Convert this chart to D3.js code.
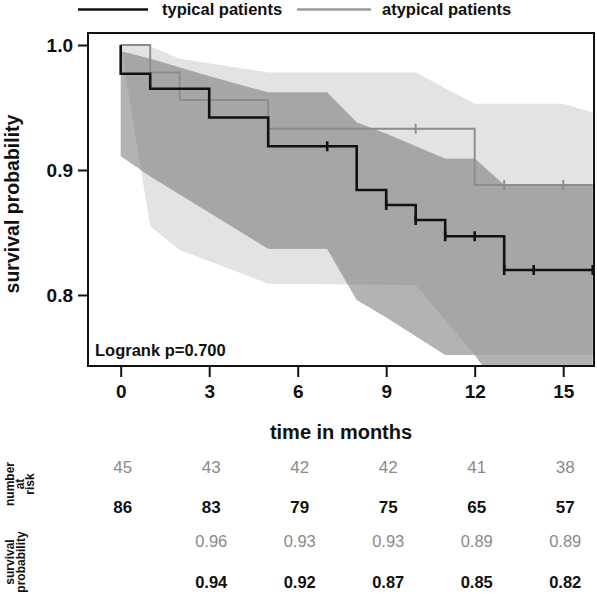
<!DOCTYPE html>
<html><head><meta charset="utf-8">
<script src="https://cdn.jsdelivr.net/npm/d3@7"></script>
<style>body{margin:0;background:#fff}svg{display:block}text{font-family:"Liberation Sans",Arial,sans-serif}</style>
</head><body><svg id="c" width="597" height="594"></svg>
<script>
// ---------------- data ----------------
const seriesNames = ["typical patients", "atypical patients"];
const seriesColors = ["#111111", "#8c8c8c"];

// Kaplan-Meier steps (time of event, survival after event)
const typicalEventTimes = [0, 1, 3, 5, 8, 9, 10, 11, 13];
const typicalSurv       = [0.977, 0.965, 0.942, 0.919, 0.884, 0.872, 0.860, 0.847, 0.820];
const typicalCensor     = [7, 9, 10, 11, 12, 13, 14, 16];

const atypicalEventTimes = [1, 2, 5, 12];
const atypicalSurv       = [0.978, 0.956, 0.933, 0.888];
const atypicalCensor     = [10, 13, 15];

const endTime = 16;

// confidence bands
const typicalBandTimes = [0, 1, 3, 5, 7, 8, 9, 10, 11, 12, 13, 14, 16];
const typicalUpper     = [0.995, 0.989, 0.975, 0.962, 0.962, 0.938, 0.929, 0.919, 0.909, 0.909, 0.888, 0.888, 0.888];
const typicalLower     = [0.911, 0.895, 0.866, 0.837, 0.837, 0.796, 0.782, 0.767, 0.752, 0.752, 0.719, 0.70, 0.68];

const atypicalBandTimes = [0, 1, 2, 5, 10, 12, 13, 15, 16];
const atypicalUpper     = [1.0, 0.999, 0.989, 0.978, 0.978, 0.953, 0.953, 0.953, 0.946];
const atypicalLower     = [1.0, 0.855, 0.836, 0.809, 0.808, 0.752, 0.752, 0.752, 0.752];

const xTicks = [0, 3, 6, 9, 12, 15];
const yTicks = [0.8, 0.9, 1.0];
const pValueText = "Logrank p=0.700";
const xTitle = "time in months";
const yTitle = "survival probability";

// risk table
const riskTimes = [0, 3, 6, 9, 12, 15];
const atypicalAtRisk = [45, 43, 42, 42, 41, 38];
const typicalAtRisk  = [86, 83, 79, 75, 65, 57];
const atypicalSurvRow = ["", "0.96", "0.93", "0.93", "0.89", "0.89"];
const typicalSurvRow  = ["", "0.94", "0.92", "0.87", "0.85", "0.82"];

// ---------------- drawing ----------------
const svg = d3.select("#c");
const P = {l: 88, t: 33, r: 594, b: 366};
const x = d3.scaleLinear().domain([0, 16]).range([120.7, 592.7]);
const y = d3.scaleLinear().domain([0.8, 1.0]).range([295, 45]);

svg.append("defs").append("clipPath").attr("id", "plotclip")
  .append("rect").attr("x", P.l).attr("y", P.t).attr("width", P.r - P.l).attr("height", P.b - P.t);

const area = d3.area().x(d => x(d.t)).y0(d => y(d.lo)).y1(d => y(d.hi));
const typBand = typicalBandTimes.map((t, i) => ({t, lo: typicalLower[i], hi: typicalUpper[i]}));
const atyBand = atypicalBandTimes.map((t, i) => ({t, lo: atypicalLower[i], hi: atypicalUpper[i]}));

const defs = svg.select("defs");
defs.append("clipPath").attr("id", "typclip").append("path").attr("d", area(typBand));

const gPlot = svg.append("g").attr("clip-path", "url(#plotclip)");
gPlot.append("path").attr("d", area(atyBand)).attr("fill", "#e3e3e3");
gPlot.append("path").attr("d", area(typBand)).attr("fill", "#b3b3b3");
gPlot.append("g").attr("clip-path", "url(#typclip)")
  .append("path").attr("d", area(atyBand)).attr("fill", "#a6a6a6");

function stepPts(times, surv) {
  const pts = [[0, 1]];
  let cur = 1;
  times.forEach((t, i) => { pts.push([t, cur]); cur = surv[i]; pts.push([t, cur]); });
  pts.push([endTime, cur]);
  return pts;
}
function survAt(times, surv, t) {
  let s = 1;
  times.forEach((tt, i) => { if (tt <= t) s = surv[i]; });
  return s;
}
const line = d3.line().x(d => x(d[0])).y(d => y(d[1]));

function drawCurve(times, surv, cens, color, w) {
  const g = gPlot.append("g");
  g.append("path").attr("d", line(stepPts(times, surv))).attr("fill", "none")
    .attr("stroke", color).attr("stroke-width", w).attr("stroke-linejoin", "miter");
  cens.forEach(t => {
    const yy = y(survAt(times, surv, t));
    g.append("line").attr("x1", x(t)).attr("x2", x(t)).attr("y1", yy - 5).attr("y2", yy + 5)
      .attr("stroke", color).attr("stroke-width", w);
  });
}
drawCurve(atypicalEventTimes, atypicalSurv, atypicalCensor, seriesColors[1], 1.9);
drawCurve(typicalEventTimes, typicalSurv, typicalCensor, seriesColors[0], 2.6);

// frame
svg.append("rect").attr("x", P.l).attr("y", P.t).attr("width", P.r - P.l).attr("height", P.b - P.t)
  .attr("fill", "none").attr("stroke", "#111").attr("stroke-width", 2);

// axes
const yAxis = d3.axisLeft(y).tickValues(yTicks).tickFormat(d3.format(".1f")).tickSize(10).tickPadding(5);
const gy = svg.append("g").attr("transform", `translate(${P.l},0)`).call(yAxis);
gy.select(".domain").remove();
gy.selectAll(".tick line").attr("stroke", "#111").attr("stroke-width", 2);
gy.selectAll(".tick text").attr("font-size", 19).attr("font-weight", "bold").attr("fill", "#111")
  .attr("font-family", '"Liberation Sans",Arial,sans-serif');

const xAxis = d3.axisBottom(x).tickValues(xTicks).tickSize(11).tickPadding(8);
const gx = svg.append("g").attr("transform", `translate(0,${P.b})`).call(xAxis);
gx.select(".domain").remove();
gx.selectAll(".tick line").attr("stroke", "#111").attr("stroke-width", 2);
gx.selectAll(".tick text").attr("font-size", 19).attr("font-weight", "bold").attr("fill", "#111")
  .attr("font-family", '"Liberation Sans",Arial,sans-serif');

// titles
svg.append("text").attr("x", 341).attr("y", 439).attr("text-anchor", "middle")
  .attr("font-size", 20).attr("font-weight", "bold").attr("fill", "#111").text(xTitle);
svg.append("text").attr("transform", "translate(19,204) rotate(-90)").attr("text-anchor", "middle")
  .attr("font-size", 19.5).attr("font-weight", "bold").attr("fill", "#111").text(yTitle);
svg.append("text").attr("x", 95).attr("y", 356).attr("font-size", 16.5).attr("font-weight", "bold")
  .attr("fill", "#111").text(pValueText);

// legend
const leg = svg.append("g");
const legX = [[78, 148, 162], [297, 371, 382]];
seriesNames.forEach((n, i) => {
  leg.append("line").attr("x1", legX[i][0]).attr("x2", legX[i][1]).attr("y1", 9.5).attr("y2", 9.5)
    .attr("stroke", i === 0 ? "#111" : "#999").attr("stroke-width", 2.6);
  leg.append("text").attr("x", legX[i][2]).attr("y", 15).attr("font-size", 16.5).attr("font-weight", "bold")
    .attr("fill", "#111").text(n);
});

// risk table
const rx = t => x(t) + 2;
const rows = [
  {vals: atypicalAtRisk, y: 473, color: "#8a8a8a", bold: false, size: 17},
  {vals: typicalAtRisk, y: 513, color: "#111", bold: true, size: 17},
  {vals: atypicalSurvRow, y: 547, color: "#8a8a8a", bold: false, size: 16.5},
  {vals: typicalSurvRow, y: 588, color: "#111", bold: true, size: 16.5}
];
rows.forEach(r => {
  svg.append("g").selectAll("text").data(r.vals).join("text")
    .attr("x", (d, i) => rx(riskTimes[i])).attr("y", r.y).attr("text-anchor", "middle")
    .attr("font-size", r.size).attr("font-weight", r.bold ? "bold" : "normal").attr("fill", r.color)
    .text(d => d);
});
function sideLabel(lines, cy, x0, dx, fs) {
  lines.forEach((s, i) => {
    svg.append("text").attr("transform", `translate(${x0 + i * dx},${cy}) rotate(-90)`)
      .attr("text-anchor", "middle").attr("font-size", fs).attr("font-weight", "bold")
      .attr("fill", "#111").text(s);
  });
}
sideLabel(["number", "at", "risk"], 484, 14, 10, 12);
sideLabel(["survival", "probability"], 562, 14, 11, 12);
</script></body></html>
